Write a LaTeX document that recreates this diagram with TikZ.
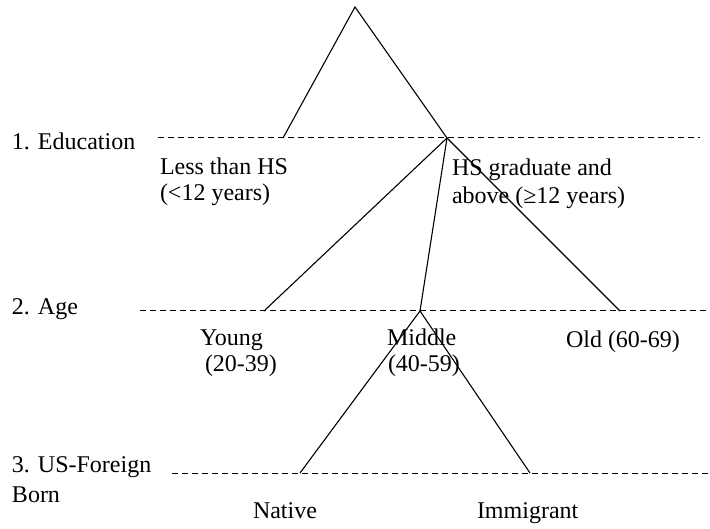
\documentclass[tikz,border=0pt]{standalone}
\usepackage{fontspec}
\setmainfont{Liberation Serif}
\begin{document}
\begin{tikzpicture}[x=1pt,y=-1pt,
  branch/.style={line width=1.1pt,black},
  levelline/.style={line width=1pt,black,dash pattern=on 6pt off 4pt},
  lbl/.style={inner sep=0pt,outer sep=0pt,font=\fontsize{24}{28}\selectfont,anchor=base west},
  clbl/.style={inner sep=0pt,outer sep=0pt,font=\fontsize{24}{28}\selectfont,anchor=base}]
\useasboundingbox (0,0) rectangle (710,529);
% level lines
\coordinate (l1a) at (158,138); \coordinate (l1b) at (700,138);
\coordinate (l2a) at (140,311); \coordinate (l2b) at (710,311);
\coordinate (l3a) at (172,473); \coordinate (l3b) at (710,473);
\draw[levelline] (l1a) -- (l1b);
\draw[levelline] (l2a) -- (l2b);
\draw[levelline] (l3a) -- (l3b);
% tree points
\coordinate (apex) at (355,7);
\coordinate (lhs) at (283,138);
\coordinate (hs) at (447,138);
\coordinate (young) at (264,311);
\coordinate (middle) at (420,311);
\coordinate (old) at (620,311);
\coordinate (native) at (300,473);
\coordinate (immig) at (530,473);
\draw[branch] (lhs) -- (apex) -- (hs);
\draw[branch] (young) -- (hs) -- (old);
\draw[branch] (hs) -- (middle);
\draw[branch] (native) -- (middle) -- (immig);
% level labels
\node[lbl] (t1) at (12,150) {1. Education};
\node[lbl] (t2) at (12,315) {2. Age};
\node[lbl] (t3a) at (12,472) {3. US-Foreign};
\node[lbl] (t3b) at (12,502) {Born};
% branch labels
\node[lbl] (lessA) at (160,175) {Less than HS};
\node[lbl] (lessB) at (160,201) {(<12 years)};
\node[lbl] (hsA) at (452,176) {HS graduate and};
\node[lbl] (hsB) at (452,204) {above (≥12 years)};
\node[lbl] (youngA) at (200,346) {Young};
\node[lbl] (youngB) at (205,372) {(20-39)};
\node[lbl] (midA) at (387,346) {Middle};
\node[lbl] (midB) at (388,372) {(40-59)};
\node[lbl] (oldA) at (566,348) {Old (60-69)};
\node[lbl] (natA) at (253,518) {Native};
\node[lbl] (immA) at (477,518) {Immigrant};
\end{tikzpicture}
\end{document}
